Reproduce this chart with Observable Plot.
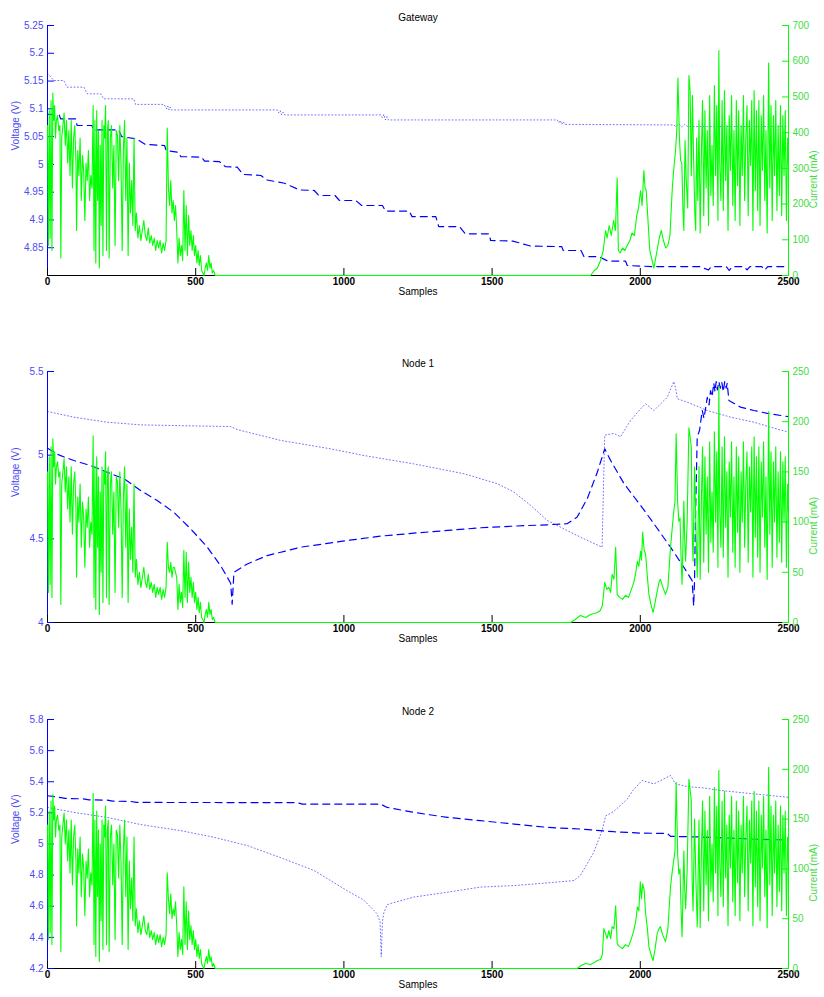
<!DOCTYPE html>
<html><head><meta charset="utf-8">
<script src="https://cdn.jsdelivr.net/npm/d3@7"></script>
<script src="https://cdn.jsdelivr.net/npm/@observablehq/plot@0.6"></script>
<style>
body{margin:0;background:#fff;}
.panel{position:relative;width:824px;}
.panel svg{position:absolute;left:0;top:0;}
</style></head><body><div id="chart"></div>
<script>
const xTicks = [0, 500, 1000, 1500, 2000, 2500];
const titles = ["Gateway", "Node 1", "Node 2"];
const gatewayVoltTicks = [4.85, 4.9, 4.95, 5, 5.05, 5.1, 5.15, 5.2, 5.25];
const node1VoltTicks = [4, 4.5, 5, 5.5];
const node2VoltTicks = [4.2, 4.4, 4.6, 4.8, 5, 5.2, 5.4, 5.6, 5.8];
const gatewayCurrTicks = [0, 100, 200, 300, 400, 500, 600, 700];
const nodeCurrTicks = [0, 50, 100, 150, 200, 250];

// Voltage series [sample, volts]
const gatewayDashed = [[0,5.09],[40,5.089],[44,5.082],[95,5.082],[100,5.07],[150,5.07],[155,5.062],[240,5.062],[250,5.05],[300,5.046],[330,5.036],[395,5.034],[400,5.025],[440,5.022],[450,5.014],[520,5.013],[530,5.006],[580,5.005],[600,4.996],[640,4.995],[660,4.982],[720,4.98],[740,4.972],[800,4.966],[850,4.954],[900,4.953],[915,4.944],[970,4.944],[985,4.935],[1040,4.935],[1060,4.926],[1130,4.926],[1140,4.916],[1220,4.916],[1230,4.906],[1310,4.906],[1320,4.888],[1390,4.888],[1410,4.875],[1490,4.875],[1495,4.863],[1570,4.862],[1630,4.853],[1735,4.852],[1740,4.845],[1800,4.845],[1810,4.834],[1860,4.834],[1890,4.826],[1950,4.826],[1956,4.818],[2000,4.817],[2040,4.816],[2200,4.816],[2230,4.81],[2240,4.816],[2290,4.816],[2300,4.809],[2310,4.816],[2350,4.816],[2360,4.81],[2370,4.816],[2410,4.816],[2420,4.81],[2430,4.816],[2500,4.816]];
const gatewayDotted = [[0,5.164],[10,5.158],[21,5.151],[55,5.151],[66,5.139],[123,5.139],[134,5.127],[179,5.127],[190,5.118],[291,5.118],[297,5.108],[393,5.108],[398,5.104],[402,5.1],[406,5.105],[410,5.098],[414,5.103],[418,5.098],[775,5.098],[780,5.093],[785,5.097],[790,5.089],[795,5.094],[800,5.089],[1124,5.089],[1130,5.084],[1135,5.09],[1140,5.08],[1145,5.086],[1150,5.08],[1720,5.08],[1725,5.075],[1730,5.079],[1735,5.072],[1740,5.077],[1745,5.072],[2113,5.071],[2120,5.068],[2130,5.073],[2140,5.067],[2150,5.072],[2160,5.068],[2500,5.068]];
const node1Dashed = [[0,5.042],[20,5.02],[40,5.0],[89,4.968],[145,4.938],[201,4.898],[258,4.859],[314,4.789],[370,4.729],[426,4.659],[483,4.56],[539,4.45],[584,4.34],[618,4.235],[623,4.11],[629,4.3],[674,4.35],[741,4.4],[787,4.42],[854,4.45],[933,4.47],[1011,4.49],[1124,4.516],[1236,4.534],[1349,4.55],[1461,4.566],[1574,4.576],[1686,4.584],[1753,4.59],[1787,4.63],[1821,4.74],[1855,4.898],[1880,5.038],[1900,4.968],[1945,4.83],[2001,4.7],[2046,4.59],[2102,4.45],[2147,4.33],[2175,4.25],[2180,4.1],[2183,4.25],[2186,4.61],[2192,5.107],[2200,5.15],[2209,5.267],[2215,5.22],[2226,5.346],[2232,5.3],[2237,5.386],[2242,5.35],[2248,5.43],[2252,5.38],[2256,5.44],[2260,5.39],[2265,5.44],[2270,5.4],[2275,5.435],[2280,5.38],[2285,5.44],[2290,5.4],[2293,5.43],[2299,5.327],[2338,5.287],[2383,5.267],[2428,5.25],[2500,5.23]];
const node1Dotted = [[0,5.261],[89,5.227],[201,5.197],[314,5.181],[426,5.177],[618,5.171],[640,5.153],[787,5.088],[955,5.038],[1067,4.998],[1236,4.948],[1405,4.889],[1517,4.83],[1574,4.779],[1630,4.7],[1686,4.61],[1742,4.56],[1798,4.51],[1871,4.45],[1877,4.9],[1880,5.12],[1911,5.13],[1933,5.11],[1967,5.207],[2001,5.277],[2018,5.307],[2046,5.267],[2091,5.346],[2113,5.44],[2119,5.4],[2125,5.337],[2158,5.317],[2226,5.267],[2305,5.227],[2383,5.197],[2440,5.167],[2500,5.137]];
const node2Dashed = [[0,5.31],[40,5.3],[60,5.293],[120,5.29],[140,5.284],[200,5.282],[220,5.275],[280,5.274],[300,5.267],[842,5.266],[860,5.256],[1124,5.256],[1146,5.235],[1236,5.203],[1349,5.171],[1461,5.15],[1574,5.128],[1686,5.107],[1798,5.096],[1911,5.079],[2001,5.07],[2091,5.068],[2102,5.049],[2200,5.045],[2300,5.038],[2400,5.03],[2500,5.025]];
const node2Dotted = [[0,5.235],[89,5.203],[201,5.171],[314,5.125],[449,5.086],[562,5.043],[674,4.99],[787,4.912],[899,4.83],[1011,4.7],[1067,4.64],[1112,4.552],[1122,4.5],[1126,4.275],[1130,4.5],[1135,4.56],[1146,4.61],[1180,4.63],[1236,4.659],[1349,4.69],[1461,4.723],[1574,4.733],[1686,4.75],[1776,4.765],[1798,4.798],[1843,4.947],[1871,5.086],[1883,5.18],[1911,5.21],[1956,5.288],[1975,5.344],[2006,5.408],[2046,5.386],[2080,5.419],[2102,5.44],[2119,5.386],[2158,5.369],[2214,5.36],[2271,5.344],[2383,5.322],[2500,5.3]];

// Current series [sample, mA]
const gatewayCurrent = [[0,420],[3,84],[6,462],[9,105],[12,490],[15,70],[18,511],[21,434],[24,476],[27,385],[30,434],[34,448],[38,406],[42,420],[45,49],[48,385],[52,420],[56,455],[60,364],[64,434],[68,315],[72,406],[76,280],[80,434],[84,245],[88,385],[92,420],[96,315],[98,126],[102,350],[106,280],[110,385],[114,210],[118,336],[122,294],[126,154],[130,315],[134,266],[138,350],[142,210],[146,280],[150,245],[154,476],[157,70],[160,434],[163,35],[166,462],[169,210],[172,406],[175,21],[178,364],[181,140],[184,434],[187,56],[190,420],[193,385],[196,476],[199,70],[202,406],[205,434],[208,49],[212,385],[216,420],[220,245],[224,364],[228,84],[232,406],[236,392],[240,266],[244,420],[248,315],[252,70],[256,350],[260,434],[264,210],[268,385],[272,56],[276,315],[280,175],[284,266],[288,140],[292,385],[296,126],[300,175],[305,105],[310,140],[315,98],[320,126],[325,154],[330,112],[335,98],[340,133],[345,91],[350,112],[355,84],[360,105],[365,70],[370,98],[375,77],[380,98],[385,63],[390,91],[395,70],[400,98],[404,413],[408,245],[412,196],[416,266],[420,175],[424,210],[428,154],[432,196],[436,126],[440,35],[444,105],[448,56],[452,84],[456,42],[460,238],[464,70],[468,196],[472,56],[476,168],[480,84],[484,126],[488,70],[492,112],[496,56],[500,84],[504,35],[508,70],[512,28],[516,56],[520,14],[524,7],[528,0],[532,21],[536,35],[540,14],[544,56],[548,21],[552,35],[556,7],[560,14],[566,0],[1832,0],[1845,14],[1855,21],[1866,42],[1875,70],[1883,126],[1888,105],[1895,140],[1902,112],[1910,154],[1916,126],[1922,273],[1926,70],[1932,63],[1940,77],[1948,70],[1956,84],[1965,98],[1972,119],[1980,112],[1988,168],[1994,189],[2001,238],[2006,196],[2012,294],[2016,245],[2020,238],[2026,154],[2032,70],[2040,42],[2046,21],[2052,49],[2058,77],[2064,105],[2071,126],[2078,98],[2086,77],[2093,84],[2100,112],[2108,245],[2114,308],[2119,350],[2123,406],[2127,553],[2132,385],[2136,322],[2140,315],[2144,182],[2147,126],[2151,378],[2155,266],[2160,189],[2164,560],[2168,518],[2172,280],[2176,504],[2180,322],[2184,175],[2187,126],[2190,385],[2194,210],[2198,434],[2202,119],[2206,336],[2210,490],[2214,168],[2218,462],[2222,245],[2226,406],[2230,140],[2234,504],[2238,224],[2242,364],[2246,196],[2250,532],[2254,280],[2258,476],[2262,154],[2265,630],[2268,315],[2272,210],[2276,490],[2280,182],[2284,518],[2288,266],[2292,420],[2296,126],[2300,448],[2304,294],[2308,504],[2312,196],[2316,406],[2320,154],[2324,490],[2328,252],[2332,462],[2336,140],[2340,420],[2344,280],[2348,504],[2352,210],[2356,385],[2360,476],[2364,168],[2368,434],[2372,308],[2376,490],[2380,126],[2384,518],[2388,238],[2392,462],[2396,182],[2400,490],[2404,140],[2408,448],[2412,294],[2416,504],[2420,210],[2424,406],[2428,119],[2433,595],[2437,245],[2441,476],[2445,154],[2449,448],[2453,280],[2457,490],[2461,182],[2465,420],[2469,224],[2473,476],[2477,168],[2481,448],[2485,280],[2489,462],[2493,154],[2497,385],[2500,308]];
const node1Current = [[0,150],[3,30],[6,165],[9,38],[12,175],[15,25],[18,183],[21,155],[24,170],[27,138],[30,155],[34,160],[38,145],[42,150],[45,18],[48,138],[52,150],[56,163],[60,130],[64,155],[68,113],[72,145],[76,100],[80,155],[84,88],[88,138],[92,150],[96,113],[98,45],[102,125],[106,100],[110,138],[114,75],[118,120],[122,105],[126,55],[130,113],[134,95],[138,125],[142,75],[146,100],[150,88],[154,186],[157,25],[160,155],[163,13],[166,165],[169,75],[172,145],[175,8],[178,130],[181,50],[184,155],[187,20],[190,150],[193,138],[196,170],[199,25],[202,145],[205,155],[208,18],[212,138],[216,150],[220,88],[224,130],[228,30],[232,145],[236,140],[240,95],[244,150],[248,113],[252,25],[256,125],[260,155],[264,75],[268,138],[272,20],[276,113],[280,63],[284,95],[288,50],[292,138],[296,45],[300,63],[305,38],[310,50],[315,35],[320,45],[325,55],[330,40],[335,35],[340,48],[345,33],[350,40],[355,30],[360,38],[365,25],[370,35],[375,28],[380,35],[385,23],[390,33],[395,25],[400,35],[404,80],[408,55],[412,50],[416,60],[420,45],[424,55],[428,55],[432,50],[436,45],[440,13],[444,38],[448,20],[452,30],[456,15],[460,72],[464,25],[468,70],[472,20],[476,60],[480,30],[484,45],[488,25],[492,40],[496,20],[500,30],[504,13],[508,25],[512,10],[516,20],[520,5],[524,3],[528,0],[532,8],[536,13],[540,5],[544,20],[548,8],[552,13],[556,3],[560,5],[566,0],[1765,0],[1780,3],[1798,7],[1815,5],[1832,8],[1845,9],[1855,10],[1865,12],[1872,17],[1880,40],[1887,33],[1894,35],[1900,30],[1905,48],[1911,43],[1917,75],[1922,28],[1930,25],[1940,23],[1950,27],[1960,25],[1970,33],[1978,40],[1985,50],[1990,61],[1995,56],[2001,71],[2004,62],[2008,90],[2013,72],[2018,68],[2024,45],[2029,28],[2036,18],[2043,10],[2050,20],[2057,31],[2063,40],[2068,43],[2075,36],[2085,28],[2093,35],[2102,75],[2108,95],[2113,111],[2117,120],[2121,188],[2126,120],[2130,101],[2134,104],[2138,60],[2141,38],[2147,121],[2150,80],[2153,61],[2158,100],[2164,194],[2168,185],[2172,175],[2175,90],[2178,61],[2183,155],[2188,90],[2192,45],[2194,75],[2198,155],[2202,43],[2206,120],[2210,175],[2214,60],[2218,165],[2222,88],[2226,145],[2230,50],[2234,180],[2238,80],[2242,130],[2246,70],[2250,190],[2254,100],[2258,170],[2262,55],[2265,235],[2268,113],[2272,75],[2276,175],[2280,65],[2284,185],[2288,95],[2292,150],[2296,45],[2300,160],[2304,105],[2308,180],[2312,70],[2316,145],[2320,55],[2324,175],[2328,90],[2332,165],[2336,50],[2340,150],[2344,100],[2348,180],[2352,75],[2356,138],[2360,170],[2364,60],[2368,155],[2372,110],[2376,175],[2380,45],[2384,185],[2388,85],[2392,165],[2396,65],[2400,175],[2404,50],[2408,160],[2412,105],[2416,180],[2420,75],[2424,145],[2428,43],[2433,210],[2437,88],[2441,170],[2445,55],[2449,160],[2453,100],[2457,175],[2461,65],[2465,150],[2469,80],[2473,170],[2477,60],[2481,160],[2485,100],[2489,165],[2493,55],[2497,138],[2500,110]];
const node2Current = [[0,144],[3,29],[6,158],[9,36],[12,168],[15,24],[18,175],[21,149],[24,163],[27,132],[30,149],[34,154],[38,139],[42,144],[45,17],[48,132],[52,144],[56,156],[60,125],[64,149],[68,108],[72,139],[76,96],[80,149],[84,84],[88,132],[92,144],[96,108],[98,43],[102,120],[106,96],[110,132],[114,72],[118,115],[122,101],[126,53],[130,108],[134,91],[138,120],[142,72],[146,96],[150,84],[154,176],[157,24],[160,149],[163,12],[166,158],[169,72],[172,139],[175,7],[178,125],[181,48],[184,149],[187,19],[190,144],[193,132],[196,163],[199,24],[202,139],[205,149],[208,17],[212,132],[216,144],[220,84],[224,125],[228,29],[232,139],[236,134],[240,91],[244,144],[248,108],[252,24],[256,120],[260,149],[264,72],[268,132],[272,19],[276,108],[280,60],[284,91],[288,48],[292,132],[296,43],[300,60],[305,36],[310,48],[315,34],[320,43],[325,53],[330,38],[335,34],[340,46],[345,31],[350,38],[355,29],[360,36],[365,24],[370,34],[375,26],[380,34],[385,22],[390,31],[395,24],[400,34],[404,96],[408,70],[412,55],[416,75],[420,50],[424,60],[428,53],[432,67],[436,43],[440,12],[444,36],[448,19],[452,29],[456,14],[460,82],[464,24],[468,67],[472,19],[476,58],[480,29],[484,43],[488,24],[492,38],[496,19],[500,29],[504,12],[508,24],[512,10],[516,19],[520,5],[524,2],[528,0],[532,7],[536,12],[540,5],[544,19],[548,7],[552,12],[556,2],[560,5],[566,0],[1788,0],[1800,3],[1815,5],[1832,4],[1845,6],[1855,8],[1866,9],[1872,14],[1877,40],[1883,35],[1888,30],[1894,38],[1900,30],[1905,42],[1911,40],[1917,63],[1922,25],[1930,22],[1940,20],[1950,24],[1960,22],[1970,30],[1978,38],[1985,48],[1990,62],[1995,58],[2000,87],[2004,70],[2008,85],[2013,79],[2018,55],[2024,40],[2029,22],[2036,14],[2043,8],[2050,20],[2057,35],[2063,40],[2068,42],[2075,34],[2085,27],[2093,40],[2102,82],[2108,98],[2113,109],[2117,118],[2121,187],[2126,115],[2130,95],[2134,100],[2138,55],[2141,32],[2147,118],[2150,78],[2153,60],[2158,98],[2164,190],[2168,180],[2172,168],[2175,88],[2178,58],[2183,150],[2188,85],[2192,42],[2194,72],[2198,149],[2202,41],[2206,115],[2210,168],[2214,58],[2218,158],[2222,84],[2226,139],[2230,48],[2234,173],[2238,77],[2242,125],[2246,67],[2250,182],[2254,96],[2258,163],[2262,53],[2265,199],[2268,108],[2272,72],[2276,168],[2280,62],[2284,178],[2288,91],[2292,144],[2296,43],[2300,154],[2304,101],[2308,173],[2312,67],[2316,139],[2320,53],[2324,168],[2328,86],[2332,158],[2336,48],[2340,144],[2344,96],[2348,173],[2352,72],[2356,132],[2360,163],[2364,58],[2368,149],[2372,106],[2376,168],[2380,43],[2384,178],[2388,82],[2392,158],[2396,62],[2400,168],[2404,48],[2408,154],[2412,101],[2416,173],[2420,72],[2424,139],[2428,41],[2433,202],[2437,84],[2441,163],[2445,53],[2449,154],[2453,96],[2457,168],[2461,62],[2465,144],[2469,77],[2473,163],[2477,58],[2481,154],[2485,96],[2489,158],[2493,53],[2497,132],[2500,106]];

const panels = [
  {title: titles[0], vDomain: [4.8, 5.25], vTicks: gatewayVoltTicks, cDomain: [0, 700], cTicks: gatewayCurrTicks, dashed: gatewayDashed, dotted: gatewayDotted, current: gatewayCurrent, height: 346, mt: 25, mb: 71},
  {title: titles[1], vDomain: [4, 5.5], vTicks: node1VoltTicks, cDomain: [0, 250], cTicks: nodeCurrTicks, dashed: node1Dashed, dotted: node1Dotted, current: node1Current, height: 346, mt: 25, mb: 70},
  {title: titles[2], vDomain: [4.2, 5.8], vTicks: node2VoltTicks, cDomain: [0, 250], cTicks: nodeCurrTicks, dashed: node2Dashed, dotted: node2Dotted, current: node2Current, height: 305, mt: 27, mb: 29}
];

const FONT = "'Liberation Sans', Arial, Helvetica, sans-serif";
const BLUE = "#0000ff", BLUE_TXT = "#4a4af2", GREEN = "#00ff00", GREEN_TXT = "#3fdc3f";
const root = document.getElementById("chart");

for (const p of panels) {
  const div = document.createElement("div");
  div.className = "panel";
  div.style.height = p.height + "px";
  const common = {width: 824, height: p.height, marginLeft: 47, marginRight: 36, marginTop: p.mt, marginBottom: p.mb,
    style: {fontFamily: FONT, fontSize: "10px", background: "transparent", overflow: "visible"}};
  const volt = Plot.plot({
    ...common,
    x: {domain: [0, 2500]},
    y: {domain: p.vDomain},
    marks: [
      Plot.line(p.dotted, {x: d => d[0], y: d => d[1], stroke: BLUE, strokeOpacity: 0.55, strokeWidth: 1, strokeDasharray: "1,2.4"}),
      Plot.line(p.dashed, {x: d => d[0], y: d => d[1], stroke: BLUE, strokeWidth: 1.2, strokeDasharray: "7,5"}),
      Plot.ruleX([0], {stroke: BLUE}),
      Plot.ruleY([p.vDomain[0]], {stroke: "black"}),
      Plot.axisY({anchor: "left", ticks: p.vTicks, tickFormat: d => String(d), tickSize: -7, tickPadding: 11, stroke: BLUE, fill: BLUE_TXT, label: null, fontSize: 10}),
      Plot.axisX({anchor: "bottom", ticks: xTicks, tickFormat: d => String(d), tickSize: -7, tickPadding: 9, stroke: "black", fill: "black", label: null, fontSize: 10, fontWeight: "bold"}),
      Plot.text([p.title], {text: d => d, frameAnchor: "top", dy: -12, fill: "black", fontSize: 10}),
      Plot.text(["Samples"], {text: d => d, frameAnchor: "bottom", dy: 19, fill: "black", fontSize: 10}),
      Plot.text(["Voltage (V)"], {text: d => d, frameAnchor: "left", rotate: -90, dx: -32, fill: BLUE_TXT, fontSize: 10})
    ]
  });
  const curr = Plot.plot({
    ...common,
    x: {domain: [0, 2500], axis: null},
    y: {domain: p.cDomain},
    marks: [
      Plot.line(p.current, {x: d => d[0], y: d => d[1], stroke: GREEN, strokeWidth: 1.1}),
      Plot.ruleX([2500], {stroke: GREEN}),
      Plot.axisY({anchor: "right", ticks: p.cTicks, tickFormat: d => String(d), tickSize: -7, tickPadding: 11, stroke: GREEN, fill: GREEN_TXT, label: null, fontSize: 10}),
      Plot.text(["Current (mA)"], {text: d => d, frameAnchor: "right", rotate: -90, dx: 25, fill: GREEN_TXT, fontSize: 10})
    ]
  });
  div.appendChild(volt);
  div.appendChild(curr);
  root.appendChild(div);
}
</script></body></html>
